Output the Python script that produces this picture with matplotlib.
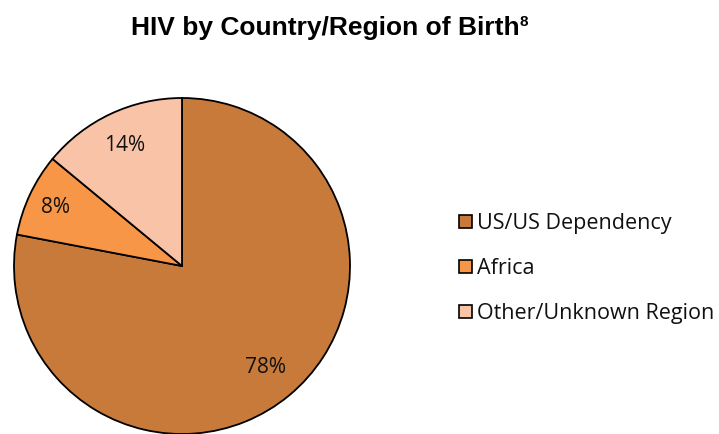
import os
import numpy as np
import matplotlib.pyplot as plt
from matplotlib import font_manager
from matplotlib.patches import Rectangle

categories = ['US/US Dependency', 'Africa', 'Other/Unknown Region']
shares = [78, 8, 14]
colors = ['#C87A3A', '#F79646', '#F9C3A8']
label_dist = [0.78, 0.83, 0.80]

bold_path = '/usr/share/fonts/truetype/liberation/LiberationSans-Bold.ttf'
if os.path.exists(bold_path):
    title_font = font_manager.FontProperties(fname=bold_path)
else:
    title_font = font_manager.FontProperties(family='DejaVu Sans', weight='bold')

W, H = 719, 435
fig = plt.figure(figsize=(W / 100, H / 100), dpi=100)

# pie axes: centre (182, 267) px from top, radius 168 px
cx, cy, r = 182, H - 267, 168
ax = fig.add_axes([(cx - r) / W, (cy - r) / H, 2 * r / W, 2 * r / H])
wedges, _ = ax.pie(shares, colors=colors, startangle=90, counterclock=False,
                   radius=1, wedgeprops=dict(edgecolor='black', linewidth=1.3))
ax.set_xlim(-1, 1)
ax.set_ylim(-1, 1)
ax.set_aspect('equal')
ax.axis('off')
for w in wedges:
    w.set_clip_on(False)

for w, v, d in zip(wedges, shares, label_dist):
    ang = np.deg2rad((w.theta1 + w.theta2) / 2)
    ax.text(d * np.cos(ang), d * np.sin(ang), f'{v}%', ha='center', va='center',
            fontsize=15, family='Open Sans', color='#111111')

# title with superscript footnote mark
title_font.set_size(19)
fig.text(0.452, 0.935, 'HIV by Country/Region of Birth', ha='center', va='center',
         fontproperties=title_font)
sup_font = title_font.copy()
sup_font.set_size(11)
fig.text(520 / W, 0.950, '8', ha='left', va='center', fontproperties=sup_font)

# legend
for i, (name, c) in enumerate(zip(categories, colors)):
    y = H - (222 + 45 * i)
    fig.patches.append(Rectangle((459 / W, (y - 6.5) / H), 13 / W, 13 / H,
                                 transform=fig.transFigure, facecolor=c,
                                 edgecolor='black', linewidth=1.2))
    fig.text(477 / W, (y - 2) / H, name, ha='left', va='center', fontsize=15.5,
             family='Open Sans', color='#111111')

fig.savefig('out.png', dpi=100)
